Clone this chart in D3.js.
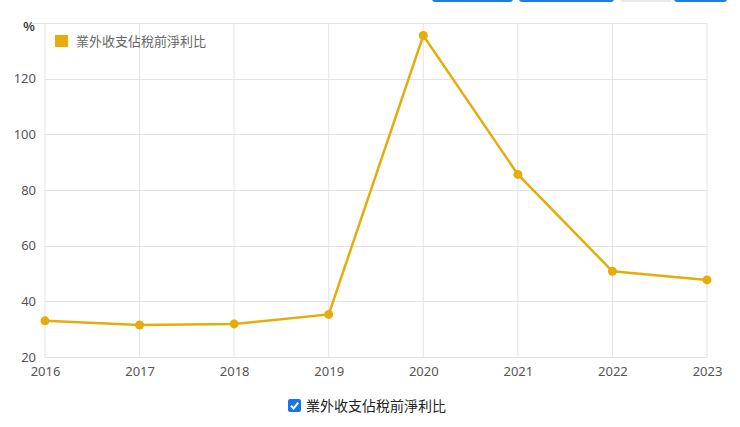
<!DOCTYPE html>
<html><head><meta charset="utf-8">
<script src="https://cdn.jsdelivr.net/npm/d3@7"></script>
<style>body{margin:0;background:#fff;font-family:"Noto Sans CJK TC","Noto Sans",sans-serif;}</style>
</head><body>
<svg id="c" width="740" height="427"></svg>
<script>
const years = ["2016","2017","2018","2019","2020","2021","2022","2023"];
const values = [33.0, 31.5, 31.9, 35.3, 135.5, 85.6, 50.8, 47.7];
const yTicks = [20, 40, 60, 80, 100, 120];
const seriesName = "業外收支佔稅前淨利比";
const color = "#e6ad0a";

const svg = d3.select("#c");
const pL = 45, pR = 707, pT = 23, pB = 357;
const x = d3.scalePoint().domain(years).range([pL, pR]);
const y = d3.scaleLinear().domain([20, 140]).range([pB, pT]);

// top buttons (partially visible)
[[432,513,"#1a7fe0"],[519,614,"#1a7fe0"],[620,672,"#e8e8e8"],[674,727,"#1a7fe0"]].forEach(b=>{
  svg.append("rect").attr("x",b[0]).attr("y",-6).attr("width",b[1]-b[0]).attr("height",8).attr("rx",3).attr("fill",b[2]);
});

// vertical grid
svg.append("g").selectAll("line").data(years).join("line")
  .attr("x1",d=>x(d)).attr("x2",d=>x(d)).attr("y1",pT).attr("y2",pB)
  .attr("stroke","#e3e3e3").attr("stroke-width",1);
// horizontal grid
svg.append("g").selectAll("line").data(yTicks.concat([140])).join("line")
  .attr("x1",d=>d===140?31:pL).attr("x2",pR).attr("y1",d=>Math.round(y(d))+0.5).attr("y2",d=>Math.round(y(d))+0.5)
  .attr("stroke","#e3e3e3").attr("stroke-width",1);

// y axis
const yAxis = d3.axisLeft(y).tickValues(yTicks).tickSize(0).tickPadding(9);
const gy = svg.append("g").attr("transform",`translate(${pL},0)`).call(yAxis);
gy.select(".domain").remove();
gy.selectAll("text").attr("fill","#555").style("font-size","13px").style("font-family","'Noto Sans','DejaVu Sans',sans-serif");

// x axis
const xAxis = d3.axisBottom(x).tickSize(0).tickPadding(10);
const gx = svg.append("g").attr("transform",`translate(0,${pB})`).call(xAxis);
gx.select(".domain").remove();
gx.selectAll("text").attr("fill","#555").style("font-size","13px").style("font-family","'Noto Sans','DejaVu Sans',sans-serif");

// unit
svg.append("text").attr("x",29).attr("y",31).attr("text-anchor","middle")
  .attr("fill","#333").style("font-size","12px").style("font-weight","bold").text("%");

// line
const data = years.map((d,i)=>({year:d,v:values[i]}));
svg.append("path").datum(data)
  .attr("d",d3.line().x(d=>x(d.year)).y(d=>y(d.v)))
  .attr("fill","none").attr("stroke",color).attr("stroke-width",2.5);
svg.append("g").selectAll("circle").data(data).join("circle")
  .attr("cx",d=>x(d.year)).attr("cy",d=>y(d.v)).attr("r",4.5).attr("fill",color);

// top legend
svg.append("rect").attr("x",55).attr("y",35).attr("width",13).attr("height",12).attr("fill",color);
svg.append("text").attr("x",76).attr("y",46).attr("fill","#666").style("font-size","13px").text(seriesName);

// bottom checkbox legend
const cb = svg.append("g").attr("transform","translate(288,399)");
cb.append("rect").attr("width",13).attr("height",13).attr("rx",2).attr("fill","#1a73e8");
cb.append("path").attr("d","M3,6.8 L5.6,9.4 L10.2,3.6").attr("fill","none").attr("stroke","#fff").attr("stroke-width",2);
svg.append("text").attr("x",306).attr("y",411).attr("fill","#222").style("font-size","14px").text(seriesName);
</script>
</body></html>
